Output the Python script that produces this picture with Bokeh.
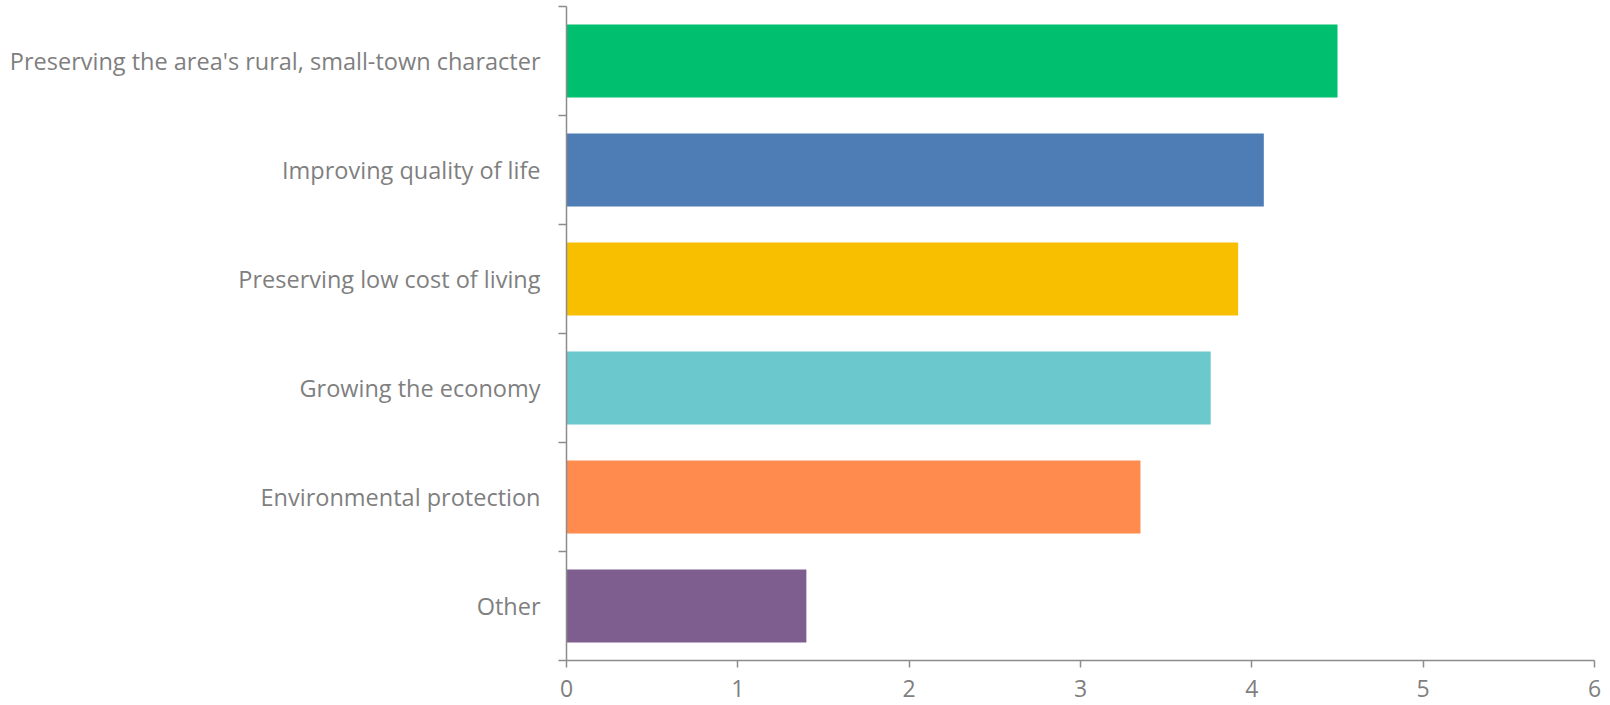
from bokeh.plotting import figure
from bokeh.models import FixedTicker, ColumnDataSource, Range1d
from bokeh.embed import file_html
from bokeh.resources import INLINE

categories = [
    "Preserving the area's rural, small-town character",
    "Improving quality of life",
    "Preserving low cost of living",
    "Growing the economy",
    "Environmental protection",
    "Other",
]
values = [4.50, 4.07, 3.92, 3.76, 3.35, 1.40]
colors = ["#00BF6F", "#4E7DB5", "#F8BE00", "#6BC8CD", "#FF8B4F", "#7D5E8F"]
x_ticks = [0, 1, 2, 3, 4, 5, 6]

n = len(categories)
# top category at the top
ypos = [n - 0.5 - i for i in range(n)]

src = ColumnDataSource(dict(y=ypos, v=values, c=colors, cat=categories))

p = figure(width=1602, height=705, output_backend="svg", toolbar_location=None,
           x_range=Range1d(0, 6), y_range=Range1d(0, n),
           min_border_left=566, min_border_right=8, min_border_top=6,
           min_border_bottom=45)
p.outline_line_color = None
p.xgrid.visible = False
p.ygrid.visible = False
p.background_fill_color = "white"
p.border_fill_color = "white"

p.hbar(y="y", right="v", left=0, height=0.67, fill_color="c", line_color=None, source=src)

grey = "#7F7F7F"
font = "Open Sans"

xa = p.xaxis[0]
xa.ticker = FixedTicker(ticks=x_ticks)
xa.axis_line_color = "#8C8C8C"
xa.axis_line_width = 1.5
xa.major_tick_line_color = "#8C8C8C"
xa.major_tick_line_width = 1.5
xa.major_tick_in = 0
xa.major_tick_out = 7
xa.minor_tick_line_color = None
xa.major_label_standoff = 12
xa.major_label_text_font = font
xa.major_label_text_font_size = "23px"
xa.major_label_text_color = grey

ya = p.yaxis[0]
ya.ticker = FixedTicker(ticks=ypos, minor_ticks=list(range(0, n + 1)))
ya.major_label_overrides = {y: c for y, c in zip(ypos, categories)}
ya.axis_line_color = "#8C8C8C"
ya.axis_line_width = 1.5
ya.major_tick_line_color = None
ya.major_tick_in = 0
ya.major_tick_out = 0
ya.minor_tick_line_color = "#8C8C8C"
ya.minor_tick_line_width = 1.5
ya.minor_tick_in = 0
ya.minor_tick_out = 8
ya.major_label_standoff = 18
ya.major_label_text_font = font
ya.major_label_text_font_size = "23.5px"
ya.major_label_text_color = grey

open("out.html", "w").write(file_html(p, INLINE))
